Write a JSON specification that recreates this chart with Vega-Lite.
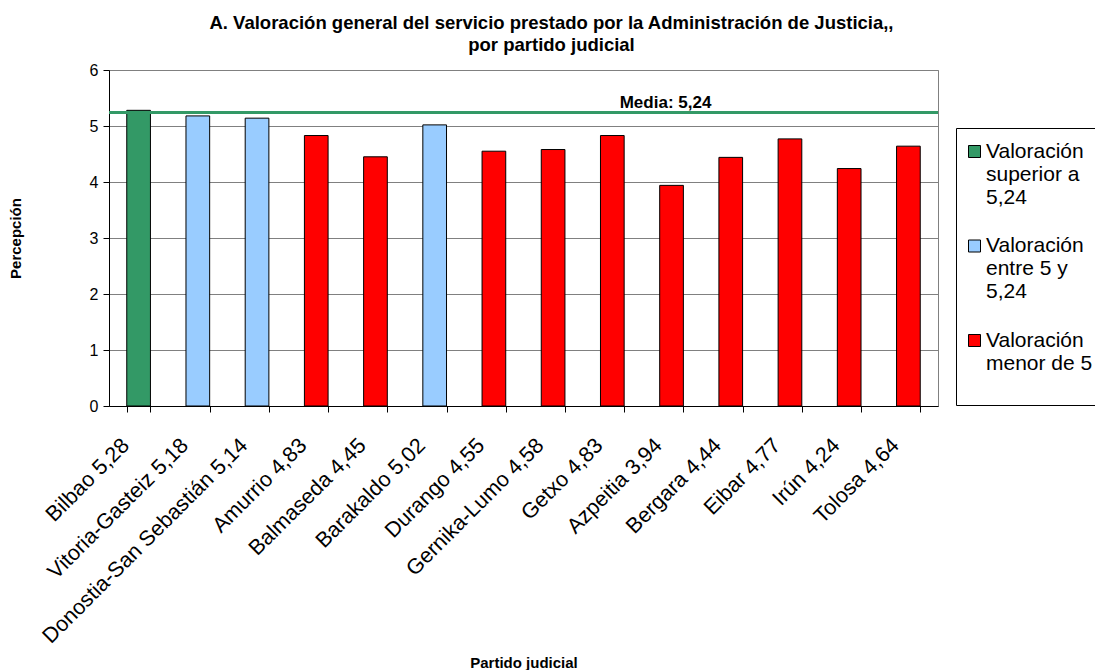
{
  "$schema": "https://vega.github.io/schema/vega-lite/v6.json",
  "autosize": {"type": "none"},
  "width": 829,
  "height": 336,
  "padding": {"left": 109, "top": 70, "right": 157, "bottom": 264},
  "background": "white",
  "config": {
    "font": "Liberation Sans",
    "view": {"stroke": "#808080", "strokeWidth": 1},
    "axis": {"labelFont": "Liberation Sans", "titleFont": "Liberation Sans", "labelColor": "black", "titleColor": "black"}
  },
  "title": {
    "text": ["A. Valoración general del servicio prestado por la Administración de Justicia,,", "por partido judicial"],
    "fontSize": 18.5,
    "fontWeight": "bold",
    "font": "Liberation Sans",
    "lineHeight": 22,
    "anchor": "middle",
    "dx": 28,
    "offset": 8,
    "color": "black"
  },
  "data": {
    "values": [
      {"partido": "Bilbao 5,28", "valor": 5.28, "grupo": "Valoración|superior a|5,24"},
      {"partido": "Vitoria-Gasteiz 5,18", "valor": 5.18, "grupo": "Valoración|entre 5 y|5,24"},
      {"partido": "Donostia-San Sebastián 5,14", "valor": 5.14, "grupo": "Valoración|entre 5 y|5,24"},
      {"partido": "Amurrio 4,83", "valor": 4.83, "grupo": "Valoración|menor de 5|"},
      {"partido": "Balmaseda 4,45", "valor": 4.45, "grupo": "Valoración|menor de 5|"},
      {"partido": "Barakaldo 5,02", "valor": 5.02, "grupo": "Valoración|entre 5 y|5,24"},
      {"partido": "Durango 4,55", "valor": 4.55, "grupo": "Valoración|menor de 5|"},
      {"partido": "Gernika-Lumo 4,58", "valor": 4.58, "grupo": "Valoración|menor de 5|"},
      {"partido": "Getxo 4,83", "valor": 4.83, "grupo": "Valoración|menor de 5|"},
      {"partido": "Azpeitia 3,94", "valor": 3.94, "grupo": "Valoración|menor de 5|"},
      {"partido": "Bergara 4,44", "valor": 4.44, "grupo": "Valoración|menor de 5|"},
      {"partido": "Eibar 4,77", "valor": 4.77, "grupo": "Valoración|menor de 5|"},
      {"partido": "Irún 4,24", "valor": 4.24, "grupo": "Valoración|menor de 5|"},
      {"partido": "Tolosa 4,64", "valor": 4.64, "grupo": "Valoración|menor de 5|"}
    ]
  },
  "layer": [
    {
      "mark": {"type": "bar", "stroke": "black", "strokeWidth": 1},
      "encoding": {
        "x": {
          "field": "partido",
          "type": "nominal",
          "sort": null,
          "scale": {
            "domain": ["Bilbao 5,28", "Vitoria-Gasteiz 5,18", "Donostia-San Sebastián 5,14", "Amurrio 4,83", "Balmaseda 4,45", "Barakaldo 5,02", "Durango 4,55", "Gernika-Lumo 4,58", "Getxo 4,83", "Azpeitia 3,94", "Bergara 4,44", "Eibar 4,77", "Irún 4,24", "Tolosa 4,64"],
            "paddingInner": 0.6,
            "paddingOuter": 0.3
          },
          "axis": {
            "title": "Partido judicial",
            "titleFontSize": 15,
            "titleFontWeight": "bold",
            "titleY": 261,
            "titleBaseline": "alphabetic",
            "labelAngle": -45,
            "labelAlign": "right",
            "labelBaseline": "middle",
            "labelFontSize": 21.5,
            "labelPadding": 30,
            "labelOffset": -13,
            "labelLimit": 500,
            "tickBand": "extent",
            "tickSize": 6,
            "tickColor": "black",
            "domainColor": "black",
            "grid": false
          }
        },
        "y": {
          "field": "valor",
          "type": "quantitative",
          "scale": {"domain": [0, 6], "nice": false},
          "axis": {
            "title": "Percepción",
            "titleFontSize": 15,
            "titleFontWeight": "bold",
            "titlePadding": 66,
            "values": [0, 1, 2, 3, 4, 5, 6],
            "format": "d",
            "labelFontSize": 16,
            "labelPadding": 5,
            "tickSize": 6,
            "tickColor": "black",
            "domainColor": "black",
            "gridColor": "#808080",
            "gridOpacity": 1
          }
        },
        "color": {
          "field": "grupo",
          "type": "nominal",
          "scale": {
            "domain": ["Valoración|superior a|5,24", "Valoración|entre 5 y|5,24", "Valoración|menor de 5|"],
            "range": ["#339966", "#99CCFF", "#FF0000"]
          },
          "legend": {
            "title": "\u00a0",
            "titleFontSize": 2,
            "titlePadding": 3,
            "orient": "none",
            "legendX": 847,
            "legendY": 58,
            "padding": 8,
            "strokeColor": "black",
            "fillColor": "white",
            "symbolType": "square",
            "symbolSize": 144,
            "symbolStrokeColor": "black",
            "symbolStrokeWidth": 1,
            "symbolOpacity": 1,
            "labelFontSize": 21,
            "labelFont": "Liberation Sans",
            "labelColor": "black",
            "labelLimit": 500,
            "labelOffset": 1,
            "labelBaseline": "middle",
            "labelExpr": "split(datum.label, '|')",
            "rowPadding": 26.5
          }
        }
      }
    },
    {
      "data": {"values": [{"media": 5.24}]},
      "mark": {"type": "rule", "color": "#339966", "strokeWidth": 3},
      "encoding": {"y": {"field": "media", "type": "quantitative"}}
    },
    {
      "data": {"values": [{"media": 5.24, "etiqueta": "Media: 5,24", "pos": "Azpeitia 3,94"}]},
      "mark": {"type": "text", "fontSize": 17, "fontWeight": "bold", "font": "Liberation Sans", "color": "black", "baseline": "alphabetic", "dx": -6, "dy": -5},
      "encoding": {
        "x": {"field": "pos", "type": "nominal"},
        "y": {"field": "media", "type": "quantitative"},
        "text": {"field": "etiqueta"}
      }
    }
  ]
}
